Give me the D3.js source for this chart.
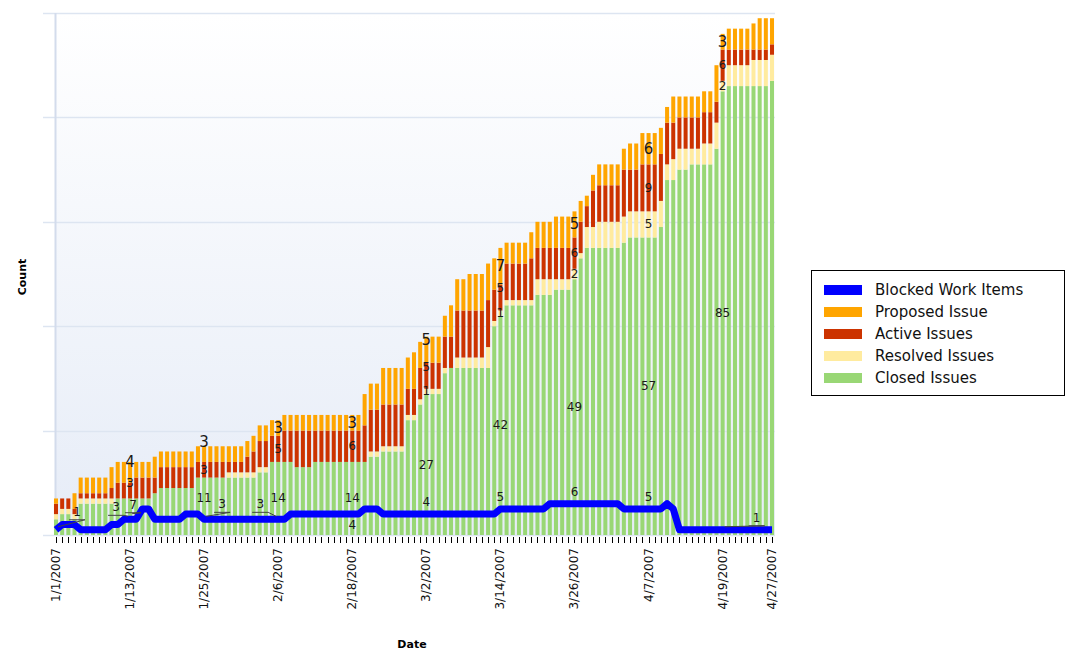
<!DOCTYPE html>
<html><head><meta charset="utf-8">
<script src="https://d3js.org/d3.v7.min.js"></script>
<style>
html,body{margin:0;padding:0;background:#fff;}
text{font-family:"DejaVu Sans",Verdana,sans-serif;}
</style></head>
<body>
<svg id="chart" width="1072" height="658"></svg>
<script>
// ---------- DATA ----------
const dates = d3.timeDay.range(new Date(2007,0,1), new Date(2007,3,28)); // daily 1/1/2007 .. 4/27/2007
const tickLabels = ["1/1/2007","1/13/2007","1/25/2007","2/6/2007","2/18/2007","3/2/2007","3/14/2007","3/26/2007","4/7/2007","4/19/2007","4/27/2007"];
const seriesNames = ["Blocked Work Items","Proposed Issue","Active Issues","Resolved Issues","Closed Issues"];
const closed = [3,4,4,3,6,6,6,6,6,6,7,7,7,7,7,7,8,9,9,9,9,9,9,11,11,11,11,11,11,11,11,11,11,12,12,14,14,14,14,13,13,13,14,14,14,14,14,14,14,14,14,15,15,16,16,16,16,22,22,25,27,27,27,31,32,32,32,32,32,32,32,40,42,44,44,44,44,44,46,46,46,47,47,47,49,53,55,55,55,55,55,55,56,57,57,57,57,57,59,68,68,70,70,71,71,71,71,74,85,86,86,86,86,86,86,86,87];
const resolved = [1,1,1,1,1,1,1,1,1,1,0,0,0,0,0,0,0,0,0,0,0,0,0,0,0,0,0,0,1,1,1,1,1,1,1,0,0,0,0,0,0,0,0,0,0,0,0,0,0,0,0,1,1,1,1,1,1,1,1,1,1,1,1,1,0,2,2,2,2,2,4,1,1,1,1,1,1,1,3,3,3,2,2,2,2,1,4,4,5,5,5,5,5,5,5,5,5,5,5,3,4,4,4,3,3,4,4,5,2,4,4,4,4,5,5,5,5];
const active = [2,2,2,1,1,1,1,1,1,2,3,3,3,4,4,4,3,4,4,4,4,4,4,3,3,3,3,3,2,2,2,3,4,5,5,5,5,6,6,7,7,7,6,6,6,6,6,6,6,6,7,8,8,8,8,8,8,5,5,6,5,5,5,6,6,9,9,9,9,9,9,6,5,7,7,7,7,8,6,6,6,6,6,6,6,6,4,7,7,7,7,7,9,8,8,9,9,9,9,8,7,6,6,6,6,6,6,4,6,3,3,3,3,2,2,2,2];
const proposed = [1,0,0,3,3,3,3,3,3,4,4,4,4,3,3,3,4,3,3,3,3,3,3,3,3,3,3,3,3,3,3,3,3,3,3,3,3,3,3,3,3,3,3,3,3,3,3,3,3,3,6,5,5,7,7,7,7,6,7,5,5,5,5,4,6,6,6,7,7,7,7,6,7,4,4,4,4,5,5,5,5,6,6,6,5,4,2,3,4,4,4,4,4,5,5,6,6,6,5,3,5,4,4,4,4,4,4,7,3,4,4,4,4,5,6,6,5];
const blocked = [1,2,2,2,1,1,1,1,1,2,2,3,3,3,5,5,3,3,3,3,3,4,4,4,3,3,3,3,3,3,3,3,3,3,3,3,3,3,4,4,4,4,4,4,4,4,4,4,4,4,5,5,5,4,4,4,4,4,4,4,4,4,4,4,4,4,4,4,4,4,4,4,5,5,5,5,5,5,5,5,6,6,6,6,6,6,6,6,6,6,6,6,5,5,5,5,5,5,5,6,5,1,1,1,1,1,1,1,1,1,1,1,1,1,1,1,1];
const labelDays = [0,12,24,36,48,60,72,84,96,108];

// ---------- STYLE ----------
const colors = {blocked:"#0000ff", proposed:"#ffa500", active:"#cc3300", resolved:"#ffeb9f", closed:"#99d775"};
const labelNudge = { // [dx,dy] moves applied by the chart's label-collision logic
  "0-blocked":[21,-6], "12-proposed":[0,-10], "12-active":[0,-8], "12-closed":[3,-12], "12-blocked":[-14,0],
  "24-proposed":[0,-12], "24-closed":[0,-8], "24-blocked":[18,-3], "36-blocked":[-18,-3], "48-blocked":[0,23],
  "60-proposed":[0,-10], "60-active":[0,-9], "72-active":[0,-9], "108-blocked":[34,0]
};
const leaderKeys = ["0-blocked","12-blocked","12-closed","24-blocked","36-blocked","108-blocked"];
const M = {left:55, right:775, top:13, bottom:535};

const svg = d3.select("#chart");
const defs = svg.append("defs");
const grad = defs.append("linearGradient").attr("id","bg").attr("x1",0).attr("y1",0).attr("x2",0).attr("y2",1);
grad.append("stop").attr("offset","0%").attr("stop-color","#ffffff");
grad.append("stop").attr("offset","100%").attr("stop-color","#e6ecf7");
defs.append("clipPath").attr("id","lblclip").append("rect").attr("x",0).attr("y",540).attr("width",1072).attr("height",73);

svg.append("rect").attr("width",1072).attr("height",658).attr("fill","#fff");
svg.append("rect").attr("x",M.left).attr("y",M.top).attr("width",M.right-M.left).attr("height",M.bottom-M.top).attr("fill","url(#bg)");

const x = d3.scaleBand().domain(d3.range(dates.length)).range([52.9, 775.1]).paddingInner(0.35).paddingOuter(0.175);
const y = d3.scaleLinear().domain([0,100]).range([M.bottom, M.top]);
const cx = i => x(i) + x.bandwidth()/2;

// gridlines
svg.append("g").selectAll("line").data(y.ticks(5)).join("line")
  .attr("x1",43).attr("x2",M.right).attr("y1",d=>Math.round(y(d))+0.5).attr("y2",d=>Math.round(y(d))+0.5)
  .attr("stroke","#dde5f1").attr("stroke-width",1.5);
svg.append("line").attr("x1",55.5).attr("x2",55.5).attr("y1",M.top).attr("y2",M.bottom)
  .attr("stroke","#d3dcec").attr("stroke-width",2);

// stacked bars
const rows = dates.map((d,i)=>({i, closed:closed[i], resolved:resolved[i], active:active[i], proposed:proposed[i]}));
const keys = ["closed","resolved","active","proposed"];
const stacked = d3.stack().keys(keys)(rows);
svg.append("g").selectAll("g").data(stacked).join("g").attr("fill",s=>colors[s.key])
  .selectAll("rect").data(s=>s).join("rect")
  .attr("x",d=>x(d.data.i)).attr("width",x.bandwidth())
  .attr("y",d=>y(d[1])).attr("height",d=>Math.max(0,y(d[0])-y(d[1])));

// blocked line
const line = d3.line().x((d,i)=>cx(i)).y(d=>y(d));
svg.append("path").datum(blocked).attr("d",line).attr("fill","none")
  .attr("stroke",colors.blocked).attr("stroke-width",7).attr("stroke-linejoin","round");

// x ticks
svg.append("g").selectAll("line").data(d3.range(dates.length)).join("line")
  .attr("x1",i=>Math.round(cx(i))+0.5).attr("x2",i=>Math.round(cx(i))+0.5).attr("y1",537).attr("y2",543)
  .attr("stroke","#000").attr("stroke-width",1);
const fmt = d3.timeFormat("%-m/%-d/%Y");
const tickIdx = tickLabels.map(t=>dates.findIndex(d=>fmt(d)===t));
svg.append("g").attr("clip-path","url(#lblclip)").selectAll("text").data(tickLabels).join("text")
  .attr("transform",(t,k)=>`translate(${cx(tickIdx[k])+4},548) rotate(-90)`)
  .attr("text-anchor","end").attr("font-size",12).attr("fill","#111").text(t=>t);

// value labels
const lbls = [];
labelDays.forEach(i=>{
  keys.forEach((k,ki)=>{
    const v = rows[i][k]; if(!v || i===0) return;
    const s = stacked[ki][i];
    lbls.push({i,k,v,px:cx(i),py:(y(s[0])+y(s[1]))/2, big:k==="proposed"});
  });
  lbls.push({i,k:"blocked",v:blocked[i],px:cx(i),py:y(blocked[i]),off:-12,big:false});
});
lbls.forEach(d=>{
  const n = labelNudge[d.i+"-"+d.k]||[0,0];
  d.x = d.px + n[0]; d.y = d.py + (d.off||0) + n[1];
});
// leader lines for labels pushed away from their points
svg.append("g").selectAll("path").data(lbls.filter(d=>leaderKeys.includes(d.i+"-"+d.k))).join("path")
  .attr("d",d=>`M${d.x-8},${d.y+8}L${d.x+8},${d.y+8}L${d.px+(d.x<d.px?-2:2)},${d.py-3}`)
  .attr("fill","none").attr("stroke","#444").attr("stroke-width",1);
svg.append("g").selectAll("text").data(lbls).join("text")
  .attr("x",d=>d.x).attr("y",d=>d.y)
  .attr("text-anchor","middle").attr("dominant-baseline","central")
  .attr("font-size",d=>d.big?15:12).attr("fill","#1a1a1a").text(d=>d.v);

// axis titles
svg.append("text").attr("transform","translate(26,277) rotate(-90)").attr("text-anchor","middle")
  .attr("font-size",11).attr("font-weight","bold").text("Count");
svg.append("text").attr("x",412).attr("y",648).attr("text-anchor","middle")
  .attr("font-size",11).attr("font-weight","bold").text("Date");

// legend
const lg = svg.append("g");
lg.append("rect").attr("x",811.5).attr("y",270.5).attr("width",253).attr("height",125).attr("fill","#fff").attr("stroke","#000");
const legendKeys = ["blocked","proposed","active","resolved","closed"];
const li = lg.selectAll("g").data(seriesNames).join("g").attr("transform",(d,k)=>`translate(824,${290+k*22})`);
li.append("rect").attr("x",0).attr("y",-5).attr("width",38).attr("height",10).attr("fill",(d,k)=>colors[legendKeys[k]]);
li.append("text").attr("x",51).attr("y",0).attr("dominant-baseline","central").attr("font-size",15).attr("fill","#111").text(d=>d);
</script>
</body></html>
